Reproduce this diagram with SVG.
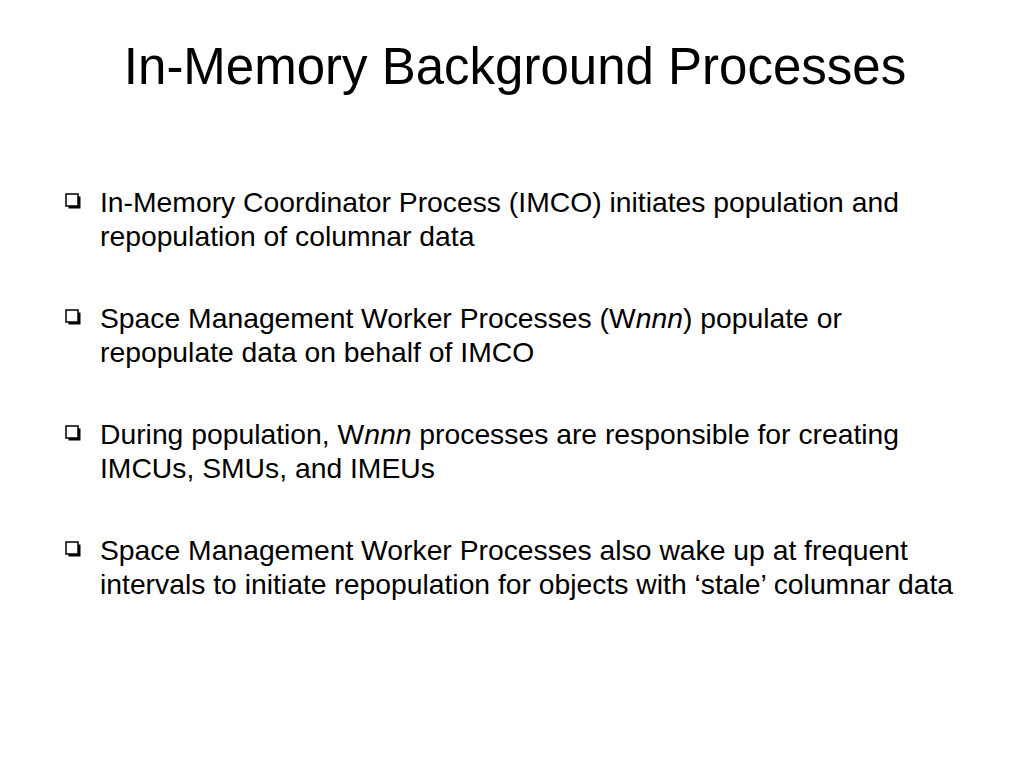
<svg xmlns="http://www.w3.org/2000/svg" width="1024" height="768" viewBox="0 0 1024 768">
<style>
.t{font-family:"Liberation Sans",Arial,sans-serif;font-size:28.3px;fill:#000}
.h{font-family:"Liberation Sans",Arial,sans-serif;font-size:51px;fill:#000}
.bx{fill:#fff;stroke:#000;stroke-width:1.5}
.sh{fill:#000}
</style>
<defs>
<g id="b"><rect class="sh" x="2.5" y="2.5" width="12" height="12"/><rect class="bx" x="0" y="0" width="12" height="12"/></g>
</defs>
<rect width="1024" height="768" fill="#fff"/>
<text class="h" x="515" y="84" text-anchor="middle">In-Memory Background Processes</text>
<g id="bullet1"><use href="#b" x="66" y="194"/>
<text class="t" x="100" y="212">In-Memory Coordinator Process (IMCO) initiates population and</text>
<text class="t" x="100" y="246">repopulation of columnar data</text></g>
<g id="bullet2"><use href="#b" x="66" y="310"/>
<text class="t" x="100" y="328">Space Management Worker Processes (W<tspan font-style="italic">nnn</tspan>) populate or</text>
<text class="t" x="100" y="362">repopulate data on behalf of IMCO</text></g>
<g id="bullet3"><use href="#b" x="66" y="426"/>
<text class="t" x="100" y="444">During population, W<tspan font-style="italic">nnn</tspan> processes are responsible for creating</text>
<text class="t" x="100" y="478">IMCUs, SMUs, and IMEUs</text></g>
<g id="bullet4"><use href="#b" x="66" y="542"/>
<text class="t" x="100" y="560">Space Management Worker Processes also wake up at frequent</text>
<text class="t" x="100" y="594">intervals to initiate repopulation for objects with ‘stale’ columnar data</text></g>
</svg>
